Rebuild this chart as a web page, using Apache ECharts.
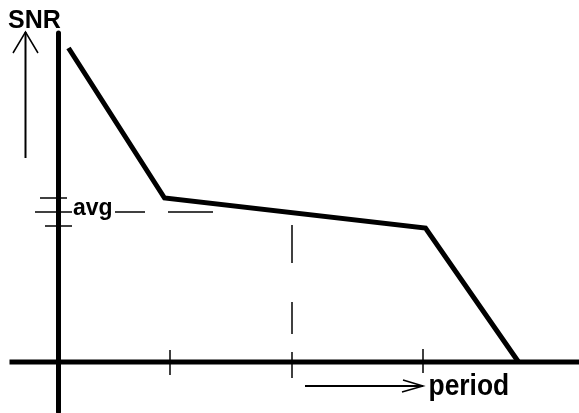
<!DOCTYPE html>
<html>
<head>
<meta charset="utf-8">
<script src="https://cdn.jsdelivr.net/npm/echarts@6/dist/echarts.min.js"></script>
<style>
  html, body { margin: 0; padding: 0; background: #fff; }
  #main { width: 579px; height: 413px; }
</style>
</head>
<body>
<div id="main"></div>
<script>
// data units: origin where the two thick axes cross, y goes up
var snrCurve = [[10, 314], [106, 164], [367, 134], [460, 0]];
var periodAxis = [[-49, 0], [521, 0]];
var snrAxis = [[0, 329], [0, -50]];
var tickX = [111.5, 233.5, 364.5];
var tickTop = [12, 10, 13];
var tickBottom = [-13, -16, -11];
var dashX = 233.5;
var dashParts = [[137, 99], [60, 28]];
// the three short lines around avg, and the pieces of the middle one
var avgLines = [
    [[-18.5, 164], [8.5, 164]],
    [[-23.5, 150], [13.5, 150]],
    [[56.5, 150], [86.5, 150]],
    [[109.5, 150], [154.5, 150]],
    [[-13.5, 136], [13.5, 136]]
];
var snrArrow = [[-33, 204], [-33, 330]];
var snrHead = [[-45.5, 309], [-33, 330], [-20.5, 309]];
var periodArrow = [[246.5, -24], [364.5, -24]];
var periodHead = [[344.5, -18], [364.5, -24], [343.5, -30]];
var labels = [
    {text: 'SNR', at: [-50.5, 353], size: 25, squeeze: 1},
    {text: 'avg', at: [14.5, 165], size: 23, squeeze: 1},
    {text: 'period', at: [370, -10], size: 30, squeeze: 0.88}
];

var chart = echarts.init(document.getElementById('main'));

var series = [];
function seg(pts, width, cap) {
    series.push({
        type: 'line',
        data: pts,
        symbol: 'none',
        silent: true,
        animation: false,
        lineStyle: {color: '#000', width: width, cap: cap || 'butt', join: 'miter'}
    });
}

seg(periodAxis, 5);
seg(snrAxis, 5, 'round');
seg(snrCurve, 5);
tickX.forEach(function (x, i) {
    if (i === 1) return;
    seg([[x, tickTop[i]], [x, tickBottom[i]]], 1.5);
});
seg([[dashX, tickTop[1]], [dashX, tickBottom[1]]], 1.5);
dashParts.forEach(function (p) {
    seg([[dashX, p[0]], [dashX, p[1]]], 1.5);
});
avgLines.forEach(function (l) { seg(l, 1.5); });
seg(snrArrow, 2);
seg(snrHead, 1.5);
seg(periodArrow, 2);
seg(periodHead, 1.5);

var option = {
    grid: {left: 0, right: 0, top: 0, bottom: 0},
    xAxis: {type: 'value', min: -58.5, max: 520.5, show: false},
    yAxis: {type: 'value', min: -51, max: 362, show: false},
    series: series
};
chart.setOption(option);

// texts placed through the same scales
var g = labels.map(function (l) {
    var p = chart.convertToPixel({gridIndex: 0}, l.at);
    return {
        type: 'text',
        x: p[0],
        y: p[1],
        scaleX: l.squeeze,
        silent: true,
        style: {
            text: l.text,
            fill: '#000',
            font: 'bold ' + l.size + 'px "Liberation Sans", Arial, sans-serif',
            textAlign: 'left',
            textVerticalAlign: 'top'
        }
    };
});
chart.setOption({graphic: g});
</script>
</body>
</html>
